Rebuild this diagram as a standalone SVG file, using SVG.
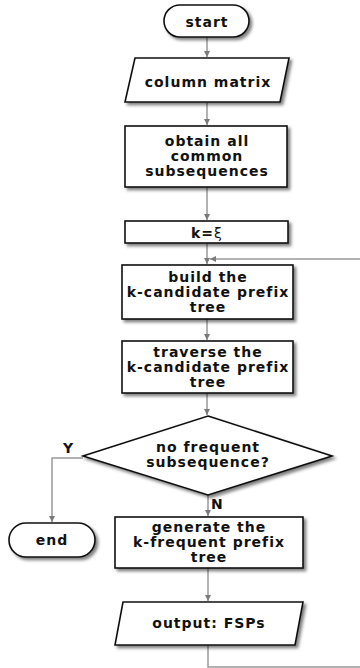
<svg xmlns="http://www.w3.org/2000/svg" width="360" height="668" viewBox="0 0 360 668">
  <defs>
    <filter id="shadow" x="-10%" y="-10%" width="130%" height="140%">
      <feDropShadow dx="2.5" dy="2.5" stdDeviation="1.5" flood-color="#000" flood-opacity="0.5"/>
    </filter>
    <marker id="arrow" viewBox="0 0 10 10" refX="10" refY="5" markerWidth="6" markerHeight="6" markerUnits="userSpaceOnUse" orient="auto">
      <path d="M0,0 L10,5 L0,10 Z" fill="#7a7a7a"/>
    </marker>
  </defs>
  <style>
    .node { fill: #fff; stroke: #111; stroke-width: 1.6; filter: url(#shadow); }
    .label { font-family: "DejaVu Sans", Verdana, sans-serif; font-weight: bold; font-size: 14px; letter-spacing: 1px; fill: #111; text-anchor: middle; }
    .thin { font-weight: normal; }
    .edge { fill: none; stroke: #999; stroke-width: 1.5; }
    .tag { font-family: "DejaVu Sans", Verdana, sans-serif; font-weight: bold; font-size: 14px; fill: #111; }
  </style>
  <rect width="360" height="668" fill="#fff"/>

  <g id="connectors">
    <path class="edge" d="M207,37 V57" marker-end="url(#arrow)"/>
    <path class="edge" d="M207,102 V125" marker-end="url(#arrow)"/>
    <path class="edge" d="M207,187 V220" marker-end="url(#arrow)"/>
    <path class="edge" d="M207,243 V264" marker-end="url(#arrow)"/>
    <path class="edge" d="M207,319 V340" marker-end="url(#arrow)"/>
    <path class="edge" d="M207,393 V415" marker-end="url(#arrow)"/>
    <path class="edge" d="M83,458 H52 V522" marker-end="url(#arrow)"/>
    <path class="edge" d="M208,495 V516" marker-end="url(#arrow)"/>
    <path class="edge" d="M208,568 V601" marker-end="url(#arrow)"/>
    <path class="edge" d="M208,645 V667 H368 V259 H210" marker-end="url(#arrow)"/>
    <text class="tag" x="68" y="453" text-anchor="middle">Y</text>
    <text class="tag" x="211" y="509">N</text>
  </g>

  <g id="start">
    <rect class="node" x="164" y="5" width="85" height="32" rx="16" ry="16"/>
    <text class="label" x="207" y="27">start</text>
  </g>

  <g id="column-matrix">
    <polygon class="node" points="135,58 289,58 280,102 125,102"/>
    <text class="label" x="208" y="87">column matrix</text>
  </g>

  <g id="common-subsequences">
    <rect class="node" x="125" y="126" width="162" height="61"/>
    <text class="label" x="207" y="146">obtain all</text>
    <text class="label" x="207" y="161">common</text>
    <text class="label" x="207" y="176">subsequences</text>
  </g>

  <g id="init-k">
    <rect class="node" x="125" y="221" width="163" height="22"/>
    <text class="label" x="207" y="238">k=<tspan class="thin">ξ</tspan></text>
  </g>

  <g id="build-tree">
    <rect class="node" x="122" y="265" width="171" height="54"/>
    <text class="label" x="208" y="282">build the</text>
    <text class="label" x="208" y="297">k-candidate prefix</text>
    <text class="label" x="208" y="312">tree</text>
  </g>

  <g id="traverse-tree">
    <rect class="node" x="122" y="341" width="171" height="52"/>
    <text class="label" x="208" y="357">traverse the</text>
    <text class="label" x="208" y="372">k-candidate prefix</text>
    <text class="label" x="208" y="387">tree</text>
  </g>

  <g id="frequent-check">
    <polygon class="node" points="208,416 332,456 208,495 83,456"/>
    <text class="label" x="208" y="452">no frequent</text>
    <text class="label" x="208" y="467">subsequence?</text>
  </g>

  <g id="end">
    <rect class="node" x="9" y="523" width="86" height="34" rx="17" ry="17"/>
    <text class="label" x="52" y="545">end</text>
  </g>

  <g id="frequent-tree">
    <rect class="node" x="115" y="517" width="188" height="51"/>
    <text class="label" x="209" y="532">generate the</text>
    <text class="label" x="209" y="547">k-frequent prefix</text>
    <text class="label" x="209" y="562">tree</text>
  </g>

  <g id="output">
    <polygon class="node" points="123,602 303,602 295,645 115,645"/>
    <text class="label" x="209" y="628">output: FSPs</text>
  </g>
</svg>
